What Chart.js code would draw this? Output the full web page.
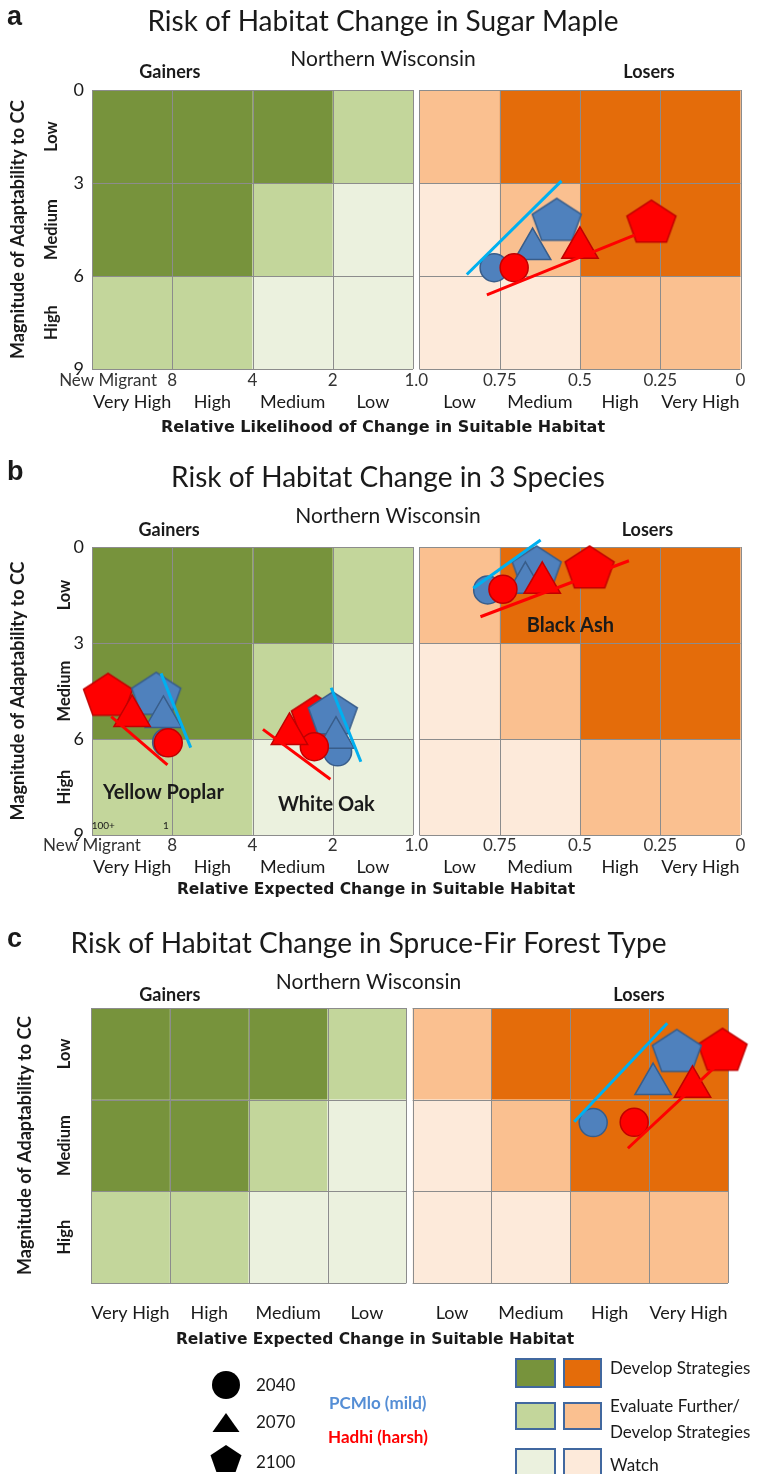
<!DOCTYPE html>
<html><head><meta charset="utf-8">
<script src="https://cdn.jsdelivr.net/npm/chart.js@4.4.1/dist/chart.umd.min.js"></script>
<style>
html,body{margin:0;padding:0;background:#fff;}
#page{position:relative;width:766px;height:1474px;overflow:hidden;background:#fff;font-family:Lato,"Open Sans",sans-serif;color:#1a1a1a;}
#page canvas{position:absolute;left:0;}
.lg{position:absolute;white-space:nowrap;line-height:18px;font-size:17px;}
.sw{position:absolute;box-sizing:border-box;border:2.5px solid #41689F;}
</style></head><body>
<div id="page">
<canvas id="ca" width="766" height="445" style="top:0px"></canvas>
<canvas id="cb" width="766" height="450" style="top:455px"></canvas>
<canvas id="cc" width="766" height="430" style="top:920px"></canvas>
</div>
<script>
// ---------------- data ----------------
const YEARS = ['2040', '2070', '2100'];
const SCENARIOS = ['PCMlo (mild)', 'Hadhi (harsh)'];
const ROW_LABELS = ['Low', 'Medium', 'High'];
const Y_TICKS = [0, 3, 6, 9];
const GAIN_CATEGORIES = ['Very High', 'High', 'Medium', 'Low'];
const LOSS_CATEGORIES = ['Low', 'Medium', 'High', 'Very High'];
const X_TICK_LABELS = ['New Migrant', '8', '4', '2', '1.0', '0.75', '0.5', '0.25', '0'];
const GAINER_RISK = [[3, 3, 3, 2], [3, 3, 2, 1], [2, 2, 1, 1]];
const LOSER_RISK = [[2, 3, 3, 3], [1, 2, 3, 3], [1, 1, 2, 2]];
const RISK_LEVEL_LABELS = ['Develop Strategies', 'Evaluate Further/|Develop Strategies', 'Watch'];

// points: [2040, 2070, 2100] as [x cell units, adaptability 0-9]
const SUGAR_MAPLE_PCMLO = [[5.01, 5.73], [5.49, 5.13], [5.79, 4.24]];
const SUGAR_MAPLE_HADHI = [[5.26, 5.73], [6.08, 5.09], [6.97, 4.30]];
const SUGAR_MAPLE_PCMLO_TREND = [[4.67, 5.95], [5.85, 2.93]];
const SUGAR_MAPLE_HADHI_TREND = [[4.92, 6.61], [6.76, 4.68]];

const YELLOW_POPLAR_PCMLO = [[0.93, 6.10], [0.89, 5.31], [0.80, 4.64]];
const YELLOW_POPLAR_HADHI = [[0.95, 6.12], [0.50, 5.28], [0.20, 4.67]];
const YELLOW_POPLAR_PCMLO_TREND = [[0.86, 3.95], [1.23, 6.27]];
const YELLOW_POPLAR_HADHI_TREND = [[0.24, 5.30], [0.94, 6.81]];

const WHITE_OAK_PCMLO = [[3.06, 6.40], [3.04, 5.96], [3.00, 5.25]];
const WHITE_OAK_HADHI = [[2.77, 6.24], [2.46, 5.84], [2.79, 5.35]];
const WHITE_OAK_PCMLO_TREND = [[2.98, 4.40], [3.35, 6.71]];
const WHITE_OAK_HADHI_TREND = [[2.13, 5.70], [2.97, 7.26]];

const BLACK_ASH_PCMLO = [[4.93, 1.34], [5.40, 1.12], [5.54, 0.69]];
const BLACK_ASH_HADHI = [[5.12, 1.32], [5.61, 1.12], [6.20, 0.69]];
const BLACK_ASH_PCMLO_TREND = [[4.75, 1.29], [5.59, -0.22]];
const BLACK_ASH_HADHI_TREND = [[4.84, 2.18], [6.69, 0.43]];

const SPRUCE_FIR_PCMLO = [[6.37, 3.75], [7.13, 2.49], [7.43, 1.46]];
const SPRUCE_FIR_HADHI = [[6.89, 3.74], [7.63, 2.58], [8.01, 1.42]];
const SPRUCE_FIR_PCMLO_TREND = [[6.13, 3.72], [7.31, 0.50]];
const SPRUCE_FIR_HADHI_TREND = [[6.81, 4.59], [7.90, 1.97]];

// ---------------- styles ----------------
const GAP = 0.08;
const FONT = 'Lato, "Open Sans", sans-serif';
const INK = '#1a1a1a';
const BLUE_FILL = '#4F81BD', BLUE_EDGE = '#385D8A', RED_FILL = '#FF0000', RED_EDGE = '#C00000';
const BLUE_LINE = '#00B0F0', RED_LINE = '#FF0000';
const GREENS = {3: '#77933C', 2: '#C3D69B', 1: '#EBF1DE'};
const ORANGES = {3: '#E46C0A', 2: '#FAC090', 1: '#FDEADA'};
Chart.defaults.font.family = FONT;
Chart.defaults.color = INK;

function measure(text, font) {
  const c = document.createElement('canvas').getContext('2d');
  c.font = font; return c.measureText(text).width;
}
function makePentagon(fill, stroke) {
  const c = document.createElement('canvas');
  c.width = 54; c.height = 50;
  const g = c.getContext('2d');
  const hw = 24.5, ry = 23.2, sx = hw / Math.sin(2 * Math.PI / 5);
  g.beginPath();
  for (let k = 0; k < 5; k++) {
    const a = 2 * Math.PI * k / 5;
    const px = 27 + sx * Math.sin(a), py = 25 - ry * Math.cos(a);
    k ? g.lineTo(px, py) : g.moveTo(px, py);
  }
  g.closePath();
  g.fillStyle = fill; g.fill();
  g.lineWidth = 1.5; g.strokeStyle = stroke; g.lineJoin = 'miter'; g.stroke();
  return c;
}
const PENT_BLUE = makePentagon(BLUE_FILL, BLUE_EDGE);
const PENT_RED = makePentagon(RED_FILL, RED_EDGE);
const toXY = p => ({x: p[0], y: p[1]});

function buildDatasets(species) {
  const ds = [];
  const shapes = ['circle', 'triangle', null];
  const radii = [14, 21, 24];
  const scen = [
    {key: 'pcmlo', fill: BLUE_FILL, edge: BLUE_EDGE, pent: PENT_BLUE, line: BLUE_LINE, order: [4, 3, 5]},
    {key: 'hadhi', fill: RED_FILL, edge: RED_EDGE, pent: PENT_RED, line: RED_LINE, order: [2, 1, 6]}
  ];
  scen.forEach((s, si) => {
    YEARS.forEach((yr, i) => {
      ds.push({
        label: SCENARIOS[si] + ' ' + yr,
        data: species.map(sp => sp[s.key][i]).map(toXY),
        pointStyle: i === 2 ? s.pent : shapes[i],
        pointRadius: radii[i], pointHoverRadius: radii[i],
        backgroundColor: s.fill, borderColor: s.edge, borderWidth: 1.5,
        showLine: false, clip: false, order: s.order[i]
      });
    });
    species.forEach(sp => ds.push({
      label: SCENARIOS[si] + ' trend',
      data: sp[s.key + 'Trend'].map(toXY),
      showLine: true, borderColor: s.line, borderWidth: 3,
      pointRadius: 0, pointHoverRadius: 0, clip: false, order: 0
    }));
  });
  return ds;
}

const cellPlugin = {
  id: 'cells',
  beforeDatasetsDraw(chart) {
    const {ctx, scales: {x, y}} = chart;
    const blocks = [{risk: GAINER_RISK, pal: GREENS, off: 0}, {risk: LOSER_RISK, pal: ORANGES, off: 4 + GAP}];
    ctx.save();
    blocks.forEach(b => {
      b.risk.forEach((row, r) => row.forEach((lvl, c) => {
        const x0 = x.getPixelForValue(b.off + c), x1 = x.getPixelForValue(b.off + c + 1);
        const y0 = y.getPixelForValue(Y_TICKS[r]), y1 = y.getPixelForValue(Y_TICKS[r + 1]);
        ctx.fillStyle = b.pal[lvl];
        ctx.fillRect(x0, y0, x1 - x0, y1 - y0);
      }));
      ctx.strokeStyle = '#8c8c8c'; ctx.lineWidth = 1;
      const L = x.getPixelForValue(b.off), R = x.getPixelForValue(b.off + 4);
      const T = y.getPixelForValue(0), B = y.getPixelForValue(9);
      ctx.beginPath();
      for (let c = 0; c <= 4; c++) { const px = Math.round(x.getPixelForValue(b.off + c)) + 0.5; ctx.moveTo(px, T); ctx.lineTo(px, B); }
      Y_TICKS.forEach(v => { const py = Math.round(y.getPixelForValue(v)) + 0.5; ctx.moveTo(L, py); ctx.lineTo(R, py); });
      ctx.stroke();
    });
    ctx.restore();
  }
};

const textPlugin = {
  id: 'panelText',
  afterDraw(chart, args, o) {
    const {ctx, chartArea: a, scales: {x, y}} = chart;
    ctx.save();
    ctx.fillStyle = INK; ctx.textBaseline = 'middle';
    ctx.textAlign = 'left';
    ctx.font = 'bold 27px "Liberation Sans", Arial, sans-serif';
    ctx.fillText(o.letter, 7, o.letterY);
    ctx.textAlign = 'center';
    ctx.font = 'bold 18px ' + FONT;
    ctx.fillText('Gainers', x.getPixelForValue(o.gainX), a.top + o.headDY);
    ctx.fillText('Losers', x.getPixelForValue(o.loseX), a.top + o.headDY);
    ctx.font = 'bold 20px ' + FONT;
    (o.labels || []).forEach(l => ctx.fillText(l.text, x.getPixelForValue(l.x), y.getPixelForValue(l.y)));
    ctx.font = '10px ' + FONT;
    (o.small || []).forEach(l => ctx.fillText(l.text, x.getPixelForValue(l.x), y.getPixelForValue(l.y)));
    ctx.font = 'bold ' + o.xTitleSize + 'px "DejaVu Sans", sans-serif';
    ctx.fillText(o.xTitle, o.xTitleX, o.xTitleY);
    ctx.restore();
  }
};

function panelChart(P) {
  const canvas = document.getElementById(P.canvas);
  const A = P.area, W = 766, L = P.padLeft;
  const TS = 28, SS = 21, tlh = TS * 1.2, slh = SS * 1.2;
  const titlePadTop = P.titleY - tlh / 2;
  const subPadTop = P.subY - slh / 2 - (P.titleY + tlh / 2);
  const subPadBottom = A.top - (P.subY + slh / 2);
  const hN = P.numbers ? 20 : 0, nFS = 17, cFS = 18;
  const xNumPad = P.numbers ? P.xNumY - A.bottom - nFS * 0.6 : 0;
  const xCatPad = P.xCatY - (A.bottom + hN) - cFS * 0.6;
  const hC = Math.max(30, xCatPad + 26);
  const padBottom = P.h - A.bottom - hN - hC;
  const rowFS = 16.5, yTitleFS = 18;
  const yNumW = P.yNumW, yCatW = A.left - yNumW - L;
  const widest = Math.max(...ROW_LABELS.map(t => measure(t, 'bold ' + rowFS + 'px ' + FONT)));
  const yCatPad = (A.left - yNumW) - P.rowX - widest / 2;
  const yTitlePad = P.yTitleX - L - yTitleFS * 0.6;
  const xNumPos = [P.newMigrant, 1, 2, 3, 4 + GAP / 2, 5 + GAP, 6 + GAP, 7 + GAP, 8 + GAP];
  const xCatPos = [0.5, 1.5, 2.5, 3.5, 4.5 + GAP, 5.5 + GAP, 6.5 + GAP, 7.5 + GAP];
  const xCatLabels = GAIN_CATEGORIES.concat(LOSS_CATEGORIES);
  const rowPos = [1.5, 4.5, 7.5];
  const noGrid = {display: false, drawTicks: false};
  const noBorder = {display: false};
  return new Chart(canvas, {
    type: 'scatter',
    data: {datasets: buildDatasets(P.species)},
    options: {
      responsive: false, animation: false, events: [],
      layout: {padding: {left: L, right: W - A.right, top: 0, bottom: padBottom}},
      plugins: {
        legend: {display: false}, tooltip: {enabled: false},
        title: {display: true, text: P.title, color: INK, font: {family: FONT, size: TS, weight: 'normal'}, padding: {top: titlePadTop, bottom: 0}},
        subtitle: {display: true, text: 'Northern Wisconsin', color: INK, font: {family: FONT, size: SS, weight: 'normal'}, padding: {top: subPadTop, bottom: subPadBottom}},
        panelText: P.text
      },
      scales: {
        x: {
          type: 'linear', position: 'bottom', min: 0, max: 8 + GAP, weight: 1, display: P.numbers,
          grid: noGrid, border: noBorder,
          afterBuildTicks: s => { s.ticks = xNumPos.map(v => ({value: v})); },
          afterFit: s => { s.height = hN; },
          ticks: {autoSkip: false, maxRotation: 0, minRotation: 0, padding: xNumPad, color: '#333',
                  font: {family: FONT, size: nFS}, callback: (v, i) => X_TICK_LABELS[i]}
        },
        xCat: {
          type: 'linear', position: 'bottom', min: 0, max: 8 + GAP, weight: 2,
          grid: noGrid, border: noBorder,
          afterBuildTicks: s => { s.ticks = xCatPos.map(v => ({value: v})); },
          afterFit: s => { s.height = hC; },
          ticks: {autoSkip: false, maxRotation: 0, minRotation: 0, padding: xCatPad, color: INK,
                  font: {family: FONT, size: cFS}, callback: (v, i) => xCatLabels[i]}
        },
        y: {
          type: 'linear', position: 'left', min: 0, max: 9, reverse: true, weight: 1, display: P.numbers,
          grid: noGrid, border: noBorder,
          afterBuildTicks: s => { s.ticks = Y_TICKS.map(v => ({value: v})); },
          afterFit: s => { s.width = yNumW; },
          ticks: {autoSkip: false, padding: 8, color: INK, font: {family: FONT, size: 18}, callback: (v, i) => String(Y_TICKS[i])}
        },
        yCat: {
          type: 'linear', position: 'left', min: 0, max: 9, reverse: true, weight: 2,
          grid: noGrid, border: noBorder,
          afterBuildTicks: s => { s.ticks = rowPos.map(v => ({value: v})); },
          afterFit: s => { s.width = yCatW; },
          ticks: {autoSkip: false, minRotation: 90, maxRotation: 90, crossAlign: 'center', padding: yCatPad,
                  color: INK, font: {family: FONT, size: rowFS, weight: 'bold'}, callback: (v, i) => ROW_LABELS[i]},
          title: {display: true, text: 'Magnitude of Adaptability to CC', color: INK,
                  font: {family: FONT, size: yTitleFS, weight: 'bold'}, padding: {top: yTitlePad, bottom: 0}}
        }
      }
    },
    plugins: [cellPlugin, textPlugin]
  });
}

panelChart({
  canvas: 'ca', title: 'Risk of Habitat Change in Sugar Maple', numbers: true, newMigrant: 0.2,
  area: {left: 92, right: 741, top: 90, bottom: 369}, h: 445, padLeft: 25, yNumW: 24,
  titleY: 22, subY: 59, xNumY: 381, xCatY: 402, rowX: 52, yTitleX: 18,
  species: [{pcmlo: SUGAR_MAPLE_PCMLO, hadhi: SUGAR_MAPLE_HADHI, pcmloTrend: SUGAR_MAPLE_PCMLO_TREND, hadhiTrend: SUGAR_MAPLE_HADHI_TREND}],
  text: {letter: 'a', letterY: 18, gainX: 0.97, loseX: 6.94, headDY: -18,
         xTitle: 'Relative Likelihood of Change in Suitable Habitat', xTitleSize: 16, xTitleX: 383, xTitleY: 428, labels: [], small: []}
});
panelChart({
  canvas: 'cb', title: 'Risk of Habitat Change in 3 Species', numbers: true, newMigrant: 0,
  area: {left: 92, right: 751, top: 92, bottom: 380}, h: 450, padLeft: 25, yNumW: 18,
  titleY: 23, subY: 61, xNumY: 391, xCatY: 412, rowX: 65, yTitleX: 18,
  species: [
    {pcmlo: YELLOW_POPLAR_PCMLO, hadhi: YELLOW_POPLAR_HADHI, pcmloTrend: YELLOW_POPLAR_PCMLO_TREND, hadhiTrend: YELLOW_POPLAR_HADHI_TREND},
    {pcmlo: WHITE_OAK_PCMLO, hadhi: WHITE_OAK_HADHI, pcmloTrend: WHITE_OAK_PCMLO_TREND, hadhiTrend: WHITE_OAK_HADHI_TREND},
    {pcmlo: BLACK_ASH_PCMLO, hadhi: BLACK_ASH_HADHI, pcmloTrend: BLACK_ASH_PCMLO_TREND, hadhiTrend: BLACK_ASH_HADHI_TREND}
  ],
  text: {letter: 'b', letterY: 18, gainX: 0.96, loseX: 6.92, headDY: -17,
         xTitle: 'Relative Expected Change in Suitable Habitat', xTitleSize: 15.5, xTitleX: 376, xTitleY: 435,
         labels: [{text: 'Yellow Poplar', x: 0.89, y: 7.66}, {text: 'White Oak', x: 2.92, y: 8.06}, {text: 'Black Ash', x: 5.96, y: 2.44}],
         small: [{text: '100+', x: 0.14, y: 8.72}, {text: '1', x: 0.92, y: 8.72}]}
});
panelChart({
  canvas: 'cc', title: 'Risk of Habitat Change in Spruce-Fir Forest Type', numbers: false, newMigrant: 0,
  area: {left: 91, right: 728, top: 88, bottom: 363}, h: 430, padLeft: 9, yNumW: 18,
  titleY: 24, subY: 62, xCatY: 393, rowX: 65, yTitleX: 25,
  species: [{pcmlo: SPRUCE_FIR_PCMLO, hadhi: SPRUCE_FIR_HADHI, pcmloTrend: SPRUCE_FIR_PCMLO_TREND, hadhiTrend: SPRUCE_FIR_HADHI_TREND}],
  text: {letter: 'c', letterY: 20, gainX: 1.0, loseX: 6.95, headDY: -13,
         xTitle: 'Relative Expected Change in Suitable Habitat', xTitleSize: 15.5, xTitleX: 375, xTitleY: 420, labels: [], small: []}
});

// ---------------- legend ----------------
(function legend() {
  const page = document.getElementById('page');
  const add = (html) => page.insertAdjacentHTML('beforeend', html);
  const hw = 15.5, ry = 14.9, sx = hw / Math.sin(2 * Math.PI / 5);
  const pent = [0, 1, 2, 3, 4].map(k => {
    const a = 2 * Math.PI * k / 5;
    return (226 + sx * Math.sin(a)).toFixed(1) + ',' + (1459.9 - 1340 - ry * Math.cos(a)).toFixed(1);
  }).join(' ');
  add('<svg style="position:absolute;left:0;top:1340px" width="766" height="134">' +
      '<circle cx="226" cy="45" r="14" fill="#000"/>' +
      '<polygon points="226,73 212.5,92 239.5,92" fill="#000"/>' +
      '<polygon points="' + pent + '" fill="#000"/></svg>');
  const yearY = [1385, 1422, 1462];
  YEARS.forEach((yr, i) => add('<div class="lg" style="left:256px;top:' + (yearY[i] - 9) + 'px">' + yr + '</div>'));
  add('<div class="lg" style="left:329px;top:1394px;font-weight:bold;color:#558ED5">' + SCENARIOS[0] + '</div>');
  add('<div class="lg" style="left:328px;top:1428px;font-weight:bold;color:#FF0000">' + SCENARIOS[1] + '</div>');
  const rows = [{top: 1358, h: 30, lvl: 3, ty: [1368]}, {top: 1402, h: 28, lvl: 2, ty: [1406, 1432]}, {top: 1448, h: 28, lvl: 1, ty: [1465]}];
  rows.forEach((r, i) => {
    add('<div class="sw" style="left:515px;top:' + r.top + 'px;width:41px;height:' + r.h + 'px;background:' + GREENS[r.lvl] + '"></div>');
    add('<div class="sw" style="left:563px;top:' + r.top + 'px;width:39px;height:' + r.h + 'px;background:' + ORANGES[r.lvl] + '"></div>');
    RISK_LEVEL_LABELS[i].split('|').forEach((t, j) =>
      add('<div class="lg" style="left:610px;top:' + (r.ty[j] - 9) + 'px">' + t + '</div>'));
  });
})();
</script>
</body></html>
